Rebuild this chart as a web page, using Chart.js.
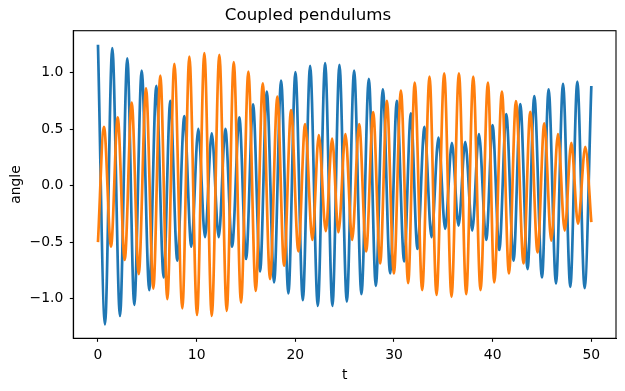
<!DOCTYPE html>
<html><head><meta charset="utf-8">
<script src="https://cdn.jsdelivr.net/npm/chart.js@4"></script>
<style>html,body{margin:0;padding:0;background:#fff;overflow:hidden}#wrap{width:625px;height:391px}</style>
</head><body><div id="wrap"><canvas id="c" width="625" height="391"></canvas></div>
<script>
// Values (turning points of each curve)
const blueT = [0, 0.71, 1.45, 2.23, 2.97, 3.68, 4.43, 5.20, 5.91, 6.66, 7.33, 8.04, 8.75, 9.46, 10.17, 10.85, 11.53, 12.24, 12.91, 13.59, 14.33, 15.01, 15.72, 16.43, 17.11, 17.85, 18.56, 19.30, 20.01, 20.76, 21.50, 22.28, 23.02, 23.76, 24.47, 25.22, 25.96, 26.70, 27.45, 28.16, 28.87, 29.61, 30.29, 31.03, 31.71, 32.38, 33.09, 33.80, 34.51, 35.19, 35.87, 36.54, 37.22, 37.93, 38.61, 39.35, 39.99, 40.67, 41.38, 42.12, 42.80, 43.54, 44.22, 45.00, 45.67, 46.42, 47.13, 47.87, 48.58, 49.32, 50];
const blueAngle = [1.25, -1.229, 1.22, -1.155, 1.13, -1.057, 1.02, -0.926, 0.884, -0.814, 0.753, -0.665, 0.617, -0.541, 0.504, -0.457, 0.463, -0.457, 0.504, -0.541, 0.605, -0.650, 0.72, -0.76, 0.834, -0.858, 0.932, -0.956, 1.006, -1.015, 1.062, -1.066, 1.086, -1.066, 1.071, -1.027, 1.02, -0.962, 0.947, -0.888, 0.855, -0.778, 0.753, -0.671, 0.641, -0.561, 0.522, -0.457, 0.427, -0.383, 0.379, -0.354, 0.388, -0.398, 0.457, -0.481, 0.537, -0.57, 0.635, -0.665, 0.724, -0.739, 0.795, -0.814, 0.855, -0.867, 0.902, -0.897, 0.923, -0.908, 0.884];
const orangeT = [0, 0.61, 1.32, 2.00, 2.71, 3.42, 4.13, 4.87, 5.61, 6.32, 7.03, 7.74, 8.55, 9.26, 10.04, 10.78, 11.53, 12.30, 13.05, 13.76, 14.50, 15.24, 15.99, 16.70, 17.44, 18.18, 18.86, 19.57, 20.31, 20.99, 21.73, 22.38, 23.09, 23.73, 24.37, 25.08, 25.76, 26.47, 27.18, 27.89, 28.60, 29.28, 29.99, 30.70, 31.44, 32.10, 32.86, 33.60, 34.31, 35.09, 35.83, 36.58, 37.32, 38.03, 38.77, 39.52, 40.16, 40.94, 41.65, 42.36, 43.13, 43.81, 44.55, 45.23, 45.94, 46.62, 47.30, 47.97, 48.65, 49.39, 50];
const orangeAngle = [-0.5, 0.522, -0.54, 0.605, -0.659, 0.736, -0.784, 0.864, -0.912, 0.976, -1.006, 1.08, -1.087, 1.145, -1.146, 1.175, -1.155, 1.16, -1.11, 1.095, -1.036, 1.012, -0.932, 0.908, -0.828, 0.789, -0.71, 0.67, -0.582, 0.546, -0.481, 0.448, -0.404, 0.418, -0.413, 0.457, -0.481, 0.546, -0.582, 0.653, -0.689, 0.753, -0.778, 0.842, -0.864, 0.914, -0.926, 0.967, -0.968, 0.997, -0.986, 0.997, -0.962, 0.967, -0.926, 0.914, -0.858, 0.834, -0.778, 0.75, -0.689, 0.655, -0.591, 0.552, -0.487, 0.457, -0.398, 0.379, -0.338, 0.344, -0.324];
const xTicks = [0, 10, 20, 30, 40, 50];
const yTicks = [-1.0, -0.5, 0.0, 0.5, 1.0];

const FONT = 'DejaVu Sans';
const frame = {
  id: 'frame',
  afterDatasetsDraw(chart) {
    const {ctx, chartArea: a} = chart;
    ctx.save();
    ctx.strokeStyle = '#000';
    ctx.lineWidth = 1.1;
    ctx.strokeRect(a.left, a.top, a.right - a.left, a.bottom - a.top);
    ctx.restore();
  }
};
const toPts = (ts, vs) => ts.map((t, i) => ({x: t, y: vs[i]}));

new Chart(document.getElementById('c'), {
  type: 'line',
  data: {
    datasets: [
      {label: 'pendulum 1', data: toPts(blueT, blueAngle), borderColor: '#1f77b4', borderWidth: 2.7,
       pointRadius: 0, cubicInterpolationMode: 'monotone', fill: false, order: 1},
      {label: 'pendulum 2', data: toPts(orangeT, orangeAngle), borderColor: '#ff7f0e', borderWidth: 2.7,
       pointRadius: 0, cubicInterpolationMode: 'monotone', fill: false, order: 0}
    ]
  },
  options: {
    responsive: false, animation: false, devicePixelRatio: 1,
    layout: {padding: {left: 0, right: 9, top: 0, bottom: 0}},
    plugins: {
      legend: {display: false}, tooltip: {enabled: false},
      title: {display: true, text: 'Coupled pendulums', color: '#000',
              font: {family: FONT, size: 16.67, weight: 'normal'}, padding: {top: 6, bottom: 4.7}}
    },
    scales: {
      x: {
        type: 'linear', min: -2.5, max: 52.5,
        afterBuildTicks: s => { s.ticks = xTicks.map(v => ({value: v})); },
        afterFit: s => { s.height = 52.7; },
        grid: {drawOnChartArea: false, drawTicks: true, tickLength: 3.5, color: '#000', tickWidth: 1.1},
        border: {display: true, color: '#000', width: 1.1},
        ticks: {color: '#000', font: {family: FONT, size: 13.9}, padding: 5, maxRotation: 0, autoSkip: false,
                callback: v => String(v)},
        title: {display: true, text: 't', color: '#000', font: {family: FONT, size: 13.9}, padding: {top: 0, bottom: 7.7}}
      },
      y: {
        type: 'linear', min: -1.353, max: 1.374,
        afterBuildTicks: s => { s.ticks = yTicks.map(v => ({value: v})); },
        afterFit: s => { s.width = 73.3; },
        grid: {drawOnChartArea: false, drawTicks: true, tickLength: 3.5, color: '#000', tickWidth: 1.1},
        border: {display: true, color: '#000', width: 1.1},
        ticks: {color: '#000', font: {family: FONT, size: 13.9}, padding: 6.5,
                callback: v => v.toFixed(1).replace('-', '\u2212')},
        title: {display: true, text: 'angle', color: '#000', font: {family: FONT, size: 13.9}, padding: {top: 8.4, bottom: 0}}
      }
    }
  },
  plugins: [frame]
});
</script></body></html>
